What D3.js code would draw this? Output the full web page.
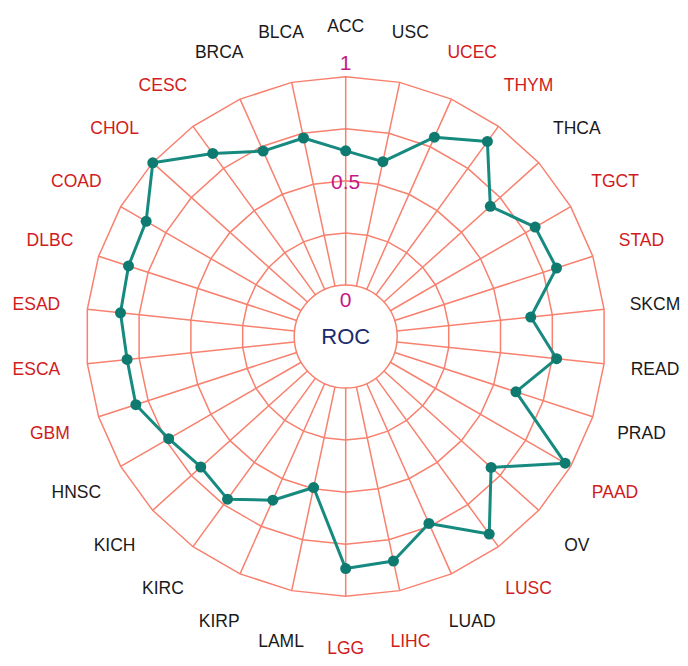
<!DOCTYPE html>
<html>
<head>
<meta charset="utf-8">
<script src="https://cdn.jsdelivr.net/npm/d3@7"></script>
<style>
html,body{margin:0;padding:0;background:#fff;}
svg{display:block;font-family:"Liberation Sans",Arial,sans-serif;}
</style>
</head>
<body>
<svg id="chart" width="688" height="666"></svg>
<script>
const categories = ["ACC","USC","UCEC","THYM","THCA","TGCT","STAD","SKCM","READ","PRAD",
  "PAAD","OV","LUSC","LUAD","LIHC","LGG","LAML","KIRP","KIRC","KICH",
  "HNSC","GBM","ESCA","ESAD","DLBC","COAD","CHOL","CESC","BRCA","BLCA"];
const rocValues = [0.644,0.611,0.800,0.910,0.687,0.803,0.817,0.646,0.771,0.612,
  0.969,0.692,0.925,0.735,0.855,0.867,0.494,0.613,0.718,0.689,
  0.734,0.812,0.808,0.840,0.849,0.859,0.999,0.839,0.727,0.727];
const redCategories = ["UCEC","THYM","TGCT","STAD","PAAD","LUSC","LIHC","LGG","GBM",
  "ESCA","ESAD","DLBC","COAD","CHOL","CESC"];
const gridLevels = [0.25,0.5,0.75,1];
const tickLabels = [{v:0,t:"0"},{v:0.5,t:"0.5"},{v:1,t:"1"}];
const centerTitle = "ROC";

const svg = d3.select("#chart");
const cx = 345.7, cy = 336.5;
const g = svg.append("g").attr("transform",`translate(${cx},${cy})`);

const angle = d3.scaleBand().domain(categories).range([0, 2*Math.PI]).align(0).paddingInner(0).paddingOuter(0);
const r = d3.scaleLinear().domain([0,1]).range([51.5, 259.8]);
const rTick = d3.scaleLinear().domain([0,1]).range([37, 274]);
const labelR = 311;

const px = (a, rad) => Math.sin(a)*rad;
const py = (a, rad) => -Math.cos(a)*rad;

const gridColor = "#f8806e";

// rings
gridLevels.forEach(lv => {
  g.append("path")
    .attr("d", d3.lineRadial().angle(d => angle(d)).radius(() => r(lv)).curve(d3.curveLinearClosed)(categories))
    .attr("fill","none").attr("stroke",gridColor).attr("stroke-width",1.5);
});
g.append("circle").attr("r", r(0)).attr("fill","none").attr("stroke",gridColor).attr("stroke-width",1.5);

// spokes
g.selectAll("line.spoke").data(categories).join("line")
  .attr("class","spoke")
  .attr("x1", d => px(angle(d), r(0))).attr("y1", d => py(angle(d), r(0)))
  .attr("x2", d => px(angle(d), r(1))).attr("y2", d => py(angle(d), r(1)))
  .attr("stroke",gridColor).attr("stroke-width",1.5);

// data line
const data = categories.map((c,i) => ({c, v: rocValues[i]}));
g.append("path")
  .attr("d", d3.lineRadial().angle(d => angle(d.c)).radius(d => r(d.v)).curve(d3.curveLinearClosed)(data))
  .attr("fill","none").attr("stroke","#178a80").attr("stroke-width",3).attr("stroke-linejoin","round");

g.selectAll("circle.pt").data(data).join("circle")
  .attr("class","pt")
  .attr("cx", d => px(angle(d.c), r(d.v))).attr("cy", d => py(angle(d.c), r(d.v)))
  .attr("r",5.5).attr("fill","#0f7a70");

// category labels
g.selectAll("text.cat").data(categories).join("text")
  .attr("class","cat")
  .attr("x", d => px(angle(d), labelR)).attr("y", d => py(angle(d), labelR))
  .attr("text-anchor","middle").attr("dominant-baseline","central")
  .attr("font-size",17.5)
  .attr("fill", d => redCategories.includes(d) ? "#d01c1c" : "#1a1a1a")
  .text(d => d);

// tick labels
g.selectAll("text.tick").data(tickLabels).join("text")
  .attr("class","tick")
  .attr("x",0).attr("y", d => -rTick(d.v))
  .attr("text-anchor","middle").attr("dominant-baseline","central")
  .attr("font-size",21).attr("fill","#c41889")
  .text(d => d.t);

g.append("text").attr("x",0).attr("y",0)
  .attr("text-anchor","middle").attr("dominant-baseline","central")
  .attr("font-size",22).attr("fill","#1b2a6b")
  .text(centerTitle);
</script>
</body>
</html>
